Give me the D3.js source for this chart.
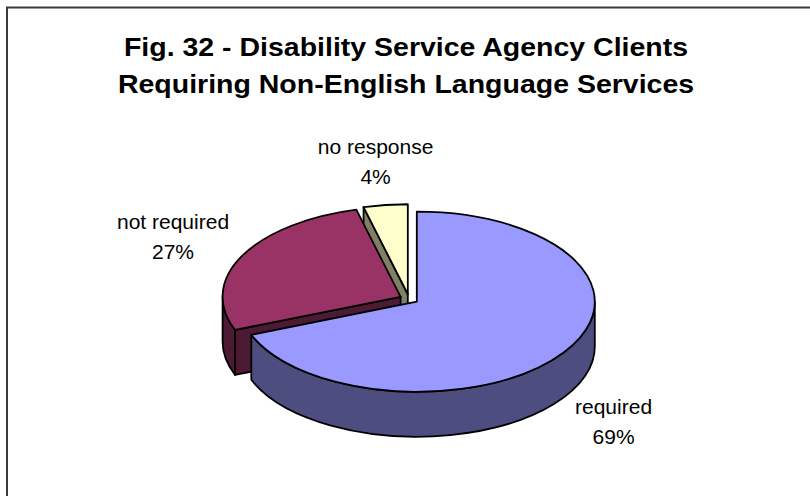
<!DOCTYPE html>
<html>
<head>
<meta charset="utf-8">
<script src="https://cdn.jsdelivr.net/npm/d3@7"></script>
<style>
  html, body { margin: 0; padding: 0; background: #ffffff; }
  svg { display: block; }
</style>
</head>
<body>
<svg id="chart" width="810" height="496"></svg>
<script>
// Chart content
const titleLines = [
  "Fig. 32 - Disability Service Agency Clients",
  "Requiring Non-English Language Services"
];
const categories = ["required", "not required", "no response"];
const values = [69, 27, 4];
const topColors = ["#9999FF", "#993366", "#FFFFCC"];
const sideColors = ["#4D4D80", "#4D1A33", "#808066"];

const svg = d3.select("#chart");
const W = 810, H = 496;

// chart area frame (runs off the right and bottom edges)
svg.append("rect")
  .attr("x", 7).attr("y", 7.5)
  .attr("width", W + 20).attr("height", H + 20)
  .attr("fill", "#ffffff")
  .attr("stroke", "#3a3a3a")
  .attr("stroke-width", 2);

// title, slightly widened like the original chart text
const titleG = svg.append("g").attr("transform", "translate(406,0)");
titleG.selectAll("text")
  .data(titleLines)
  .join("text")
  .attr("transform", (d, i) => `translate(0,${56 + i * 37}) scale(1.14,1)`)
  .attr("text-anchor", "middle")
  .attr("font-family", "'Liberation Sans', Arial, sans-serif")
  .attr("font-weight", "bold")
  .attr("font-size", 25)
  .attr("fill", "#000")
  .text(d => d);

// 3-D exploded pie geometry
const cx = 409, cy = 299;     // pie centre (top face)
const rx = 178, ry = 90;      // ellipse radii of the tilted top face
const depth = 45;             // thickness of the pie
const explode = 0.053;        // explosion distance as a fraction of the radius

const arcs = d3.pie().sort(null).value(d => d)
  .startAngle(0).endAngle(2 * Math.PI)(values);

// angle measured clockwise from 12 o'clock, projected onto the ellipse
const onRim = (c, a) => [c[0] + rx * Math.sin(a), c[1] - ry * Math.cos(a)];
const down = p => [p[0], p[1] + depth];
const f = p => `${p[0].toFixed(2)},${p[1].toFixed(2)}`;

const slices = arcs.map((a, i) => {
  const mid = (a.startAngle + a.endAngle) / 2;
  const c = [cx + explode * rx * Math.sin(mid), cy - explode * ry * Math.cos(mid)];
  return { i, a, mid, c };
});

function topPath(s) {
  const p0 = onRim(s.c, s.a.startAngle), p1 = onRim(s.c, s.a.endAngle);
  const large = (s.a.endAngle - s.a.startAngle) > Math.PI ? 1 : 0;
  return `M${f(s.c)}L${f(p0)}A${rx},${ry} 0 ${large} 1 ${f(p1)}Z`;
}

function outerSidePath(s) {
  const a0 = Math.max(s.a.startAngle, Math.PI / 2);
  const a1 = Math.min(s.a.endAngle, 3 * Math.PI / 2);
  if (a1 <= a0) return null;
  const p0 = onRim(s.c, a0), p1 = onRim(s.c, a1);
  const large = (a1 - a0) > Math.PI ? 1 : 0;
  return `M${f(p0)}A${rx},${ry} 0 ${large} 1 ${f(p1)}L${f(down(p1))}` +
         `A${rx},${ry} 0 ${large} 0 ${f(down(p0))}Z`;
}

function radialFacePath(s, ang) {
  const p = onRim(s.c, ang);
  return `M${f(s.c)}L${f(p)}L${f(down(p))}L${f(down(s.c))}Z`;
}

// painter's order: slices further back (smaller centre y) first
const order = slices.slice().sort((p, q) => p.c[1] - q.c[1]);

const pieG = svg.append("g")
  .attr("stroke", "#000")
  .attr("stroke-width", 1.8)
  .attr("stroke-linejoin", "round");

order.forEach(s => {
  const faces = [];
  if (Math.sin(s.a.startAngle) < -1e-6) faces.push(radialFacePath(s, s.a.startAngle));
  if (Math.sin(s.a.endAngle) > 1e-6) faces.push(radialFacePath(s, s.a.endAngle));
  const side = outerSidePath(s);
  if (side) faces.push(side);
  faces.forEach(d => pieG.append("path").attr("d", d).attr("fill", sideColors[s.i]));
});

order.forEach(s => {
  pieG.append("path").attr("d", topPath(s)).attr("fill", topColors[s.i]);
});

// data labels: category name with its percentage underneath
const labelG = svg.append("g")
  .attr("font-family", "'Liberation Sans', Arial, sans-serif")
  .attr("font-size", 21)
  .attr("fill", "#000")
  .attr("text-anchor", "middle");

const kx = 1.12, ky = 1.21, lineGap = 30, blockH = 50;
slices.forEach(s => {
  const g = labelG.append("g");
  const t1 = g.append("text").text(categories[s.i]);
  const t2 = g.append("text").text(`${values[s.i]}%`);
  const w = Math.max(t1.node().getComputedTextLength(), t2.node().getComputedTextLength());
  const sn = Math.sin(s.mid), cs = Math.cos(s.mid);
  const lx = s.c[0] + (rx * kx + w / 2) * sn;
  const ly = s.c[1] - (ry * ky + blockH / 2) * cs + (cs < 0 ? depth : 0);
  t1.attr("x", lx).attr("y", ly - lineGap / 4);
  t2.attr("x", lx).attr("y", ly - lineGap / 4 + lineGap);
});
</script>
</body>
</html>
